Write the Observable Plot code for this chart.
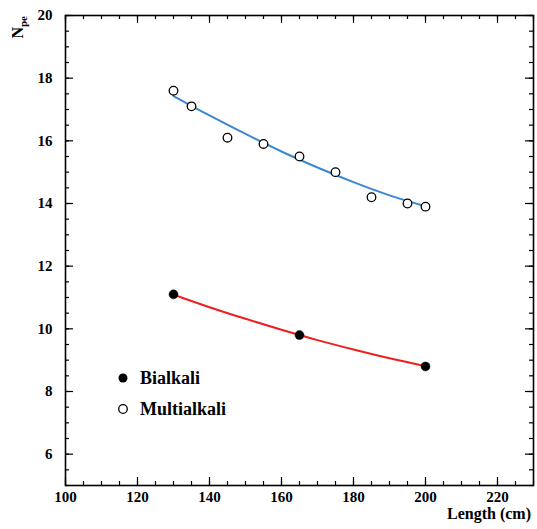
<!DOCTYPE html>
<html>
<head>
<meta charset="utf-8">
<script src="https://cdn.jsdelivr.net/npm/d3@7"></script>
<script src="https://cdn.jsdelivr.net/npm/@observablehq/plot@0.6"></script>
<style>
  html, body { margin: 0; padding: 0; background: #fff; }
  #chart { position: relative; width: 537px; height: 529px; }
  #chart svg text { font-family: "Liberation Serif", "Times New Roman", Times, "Nimbus Roman", "Nimbus Roman No9 L", FreeSerif, Tinos, "DejaVu Serif", "Noto Serif", serif !important; font-weight: bold; }
</style>
</head>
<body>
<div id="chart"></div>
<script>
// Measured points
const bialkaliLength = [130, 165, 200];
const bialkaliNpe = [11.1, 9.8, 8.8];
const multiLength = [130, 135, 145, 155, 165, 175, 185, 195, 200];
const multiNpe = [17.6, 17.1, 16.1, 15.9, 15.5, 15.0, 14.2, 14.0, 13.9];

// Fit curves
const bialkaliFitLength = [130, 140, 150, 160, 170, 180, 190, 200];
const bialkaliFitNpe = [11.09, 10.69, 10.32, 9.97, 9.64, 9.34, 9.06, 8.81];
const multiFitLength = [130, 140, 150, 160, 170, 180, 190, 200];
const multiFitNpe = [17.43, 16.81, 16.22, 15.66, 15.15, 14.68, 14.26, 13.91];

// Axis ticks
const xTickLabels = [100, 120, 140, 160, 180, 200, 220];
const xMinorTicks = d3.range(100, 231, 5);
const yTickLabels = [6, 8, 10, 12, 14, 16, 18, 20];
const yMinorTicks = d3.range(5, 20.01, 0.5);

const legendLabels = ["Bialkali", "Multialkali"];

const W = 537, H = 529;
const mL = 65, mR = 4, mT = 15, mB = 44;
const pw = W - mL - mR, ph = H - mT - mB;

const bial = bialkaliLength.map((x, i) => ({x, y: bialkaliNpe[i]}));
const multi = multiLength.map((x, i) => ({x, y: multiNpe[i]}));
const bialFit = bialkaliFitLength.map((x, i) => ({x, y: bialkaliFitNpe[i]}));
const multiFit = multiFitLength.map((x, i) => ({x, y: multiFitNpe[i]}));

const tickStroke = {stroke: "black", strokeWidth: 1.2};

const plot = Plot.plot({
  width: W,
  height: H,
  marginLeft: mL,
  marginRight: mR,
  marginTop: mT,
  marginBottom: mB,
  style: {fontSize: "15px", fontWeight: "bold", background: "white", color: "black"},
  x: {domain: [100, 230], label: null},
  y: {domain: [5, 20], label: null},
  marks: [
    Plot.tickX(xMinorTicks, {x: d => d, insetTop: ph - 4, ...tickStroke}),
    Plot.tickX(xTickLabels, {x: d => d, insetTop: ph - 8, ...tickStroke}),
    Plot.tickX(xMinorTicks, {x: d => d, insetBottom: ph - 4, ...tickStroke}),
    Plot.tickX(xTickLabels, {x: d => d, insetBottom: ph - 8, ...tickStroke}),
    Plot.tickY(yMinorTicks, {y: d => d, insetRight: pw - 4, ...tickStroke}),
    Plot.tickY(yTickLabels, {y: d => d, insetRight: pw - 8, ...tickStroke}),
    Plot.tickY(yMinorTicks, {y: d => d, insetLeft: pw - 4, ...tickStroke}),
    Plot.tickY(yTickLabels, {y: d => d, insetLeft: pw - 8, ...tickStroke}),
    Plot.axisX({ticks: xTickLabels, tickSize: 0, tickPadding: 6, label: null}),
    Plot.axisY({ticks: yTickLabels, tickSize: 0, tickPadding: 13, label: null}),
    Plot.frame({stroke: "black", strokeWidth: 1.6}),
    Plot.line(multiFit, {x: "x", y: "y", curve: "natural", stroke: "#3b87d0", strokeWidth: 2}),
    Plot.line(bialFit, {x: "x", y: "y", curve: "natural", stroke: "#f01e1e", strokeWidth: 2}),
    Plot.dot(multi, {x: "x", y: "y", r: 4.3, fill: "white", stroke: "black", strokeWidth: 1.3}),
    Plot.dot(bial, {x: "x", y: "y", r: 4.5, fill: "black", stroke: "black", strokeWidth: 0.5})
  ]
});

document.getElementById("chart").appendChild(plot);

// Axis titles and legend
const svg = d3.select(plot);
const yTitle = svg.append("text")
  .attr("transform", `translate(23,16) rotate(-90)`)
  .attr("text-anchor", "end")
  .attr("font-size", 16)
  .attr("fill", "black");
yTitle.append("tspan").text("N");
yTitle.append("tspan").attr("dy", 4).attr("font-size", 11).text("pe");

svg.append("text")
  .attr("x", 531).attr("y", 519)
  .attr("text-anchor", "end")
  .attr("font-size", 16)
  .attr("fill", "black")
  .text("Length (cm)");

const leg = svg.append("g");
leg.append("circle").attr("cx", 123).attr("cy", 378).attr("r", 4.5).attr("fill", "black");
leg.append("circle").attr("cx", 123).attr("cy", 409).attr("r", 4.3).attr("fill", "white").attr("stroke", "black").attr("stroke-width", 1.3);
leg.selectAll("text.lg").data(legendLabels).join("text")
  .attr("x", 140).attr("y", (d, i) => 384 + i * 31)
  .attr("text-anchor", "start")
  .attr("font-size", 18)
  .attr("fill", "black")
  .text(d => d);
</script>
</body>
</html>
